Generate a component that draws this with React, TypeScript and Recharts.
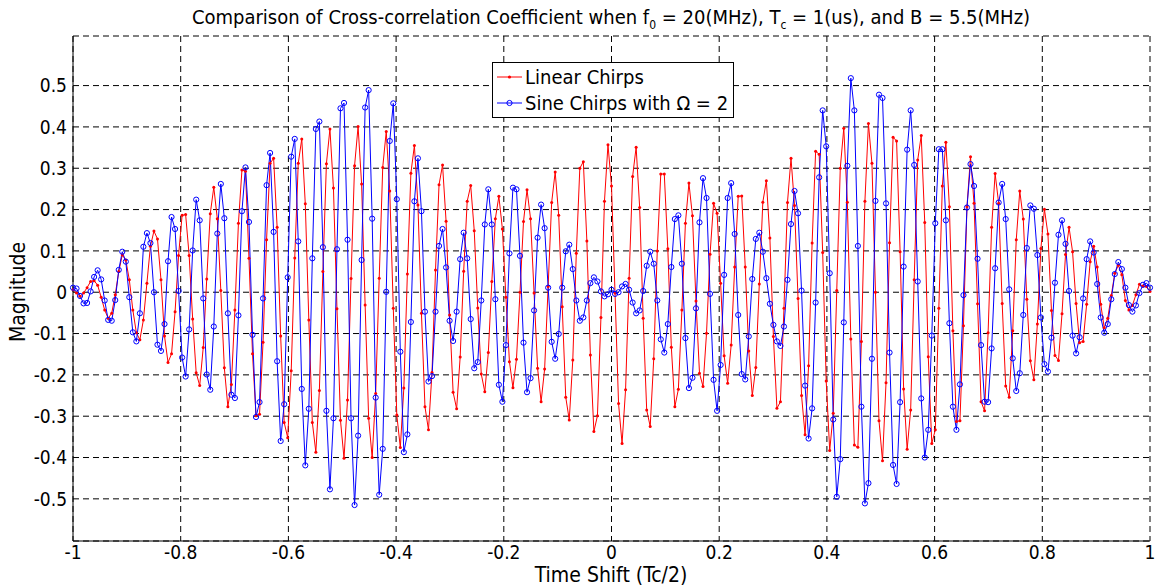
import { LineChart, Line, XAxis, YAxis, CartesianGrid } from "recharts";

// Axis ticks
const xTicks = [-1, -0.8, -0.6, -0.4, -0.2, 0, 0.2, 0.4, 0.6, 0.8, 1];
const yTicks = [-0.5, -0.4, -0.3, -0.2, -0.1, 0, 0.1, 0.2, 0.3, 0.4, 0.5];

// Linear chirps (red, dot markers)
const linearChirps = [
  0.006, -0.002, -0.01, -0.002, 0.011, 0.026, 0.028, 0.017, -0.012, -0.043,
  -0.063, -0.051, -0.006, 0.05, 0.09, 0.078, 0.03, -0.043, -0.098, -0.115,
  -0.067, 0.022, 0.111, 0.148, 0.129, 0.03, -0.106, -0.17, -0.149, -0.047,
  0.089, 0.186, 0.188, 0.089, -0.065, -0.195, -0.226, -0.134, 0.032, 0.19,
  0.254, 0.178, 0.004, -0.183, -0.277, -0.223, -0.043, 0.167, 0.296, 0.293,
  0.082, -0.149, -0.299, -0.295, -0.121, 0.127, 0.312, 0.324, 0.157, -0.106,
  -0.315, -0.352, -0.19, 0.083, 0.312, 0.371, 0.214, -0.067, -0.315, -0.387,
  -0.238, 0.05, 0.311, 0.395, 0.252, -0.04, -0.31, -0.402, -0.261, 0.033,
  0.306, 0.401, 0.262, -0.031, -0.305, -0.4, -0.245, 0.034, 0.302, 0.389,
  0.245, -0.039, -0.297, -0.376, -0.232, 0.044, 0.288, 0.355, 0.211, -0.051,
  -0.277, -0.333, -0.194, 0.054, 0.26, 0.308, 0.172, -0.055, -0.242, -0.282,
  -0.157, 0.051, 0.22, 0.258, 0.149, -0.038, -0.198, -0.241, -0.146, 0.026,
  0.178, 0.232, 0.153, -0.012, -0.168, -0.231, -0.162, 0.0, 0.171, 0.248,
  0.178, -0.002, -0.184, -0.265, -0.186, 0.014, 0.217, 0.291, 0.186, -0.035,
  -0.254, -0.309, -0.164, 0.094, 0.3, 0.316, 0.124, -0.152, -0.337, -0.299,
  -0.061, 0.22, 0.357, 0.257, -0.002, -0.269, -0.366, -0.236, 0.034, 0.28,
  0.351, 0.205, -0.063, -0.285, -0.325, -0.161, 0.1, 0.286, 0.286, 0.105,
  -0.133, -0.277, -0.235, -0.043, 0.167, 0.264, 0.185, -0.021, -0.196, -0.228,
  -0.099, 0.092, 0.215, 0.191, 0.022, -0.154, -0.22, -0.128, 0.061, 0.232,
  0.233, 0.061, -0.142, -0.25, -0.182, 0.02, 0.218, 0.27, 0.131, -0.107,
  -0.281, -0.265, -0.039, 0.217, 0.324, 0.21, -0.015, -0.25, -0.345, -0.178,
  0.119, 0.341, 0.334, 0.096, -0.215, -0.383, -0.293, 0.004, 0.3, 0.397,
  0.218, -0.113, -0.37, -0.375, -0.119, 0.22, 0.408, 0.312, 0.0, -0.311,
  -0.408, -0.219, 0.12, 0.375, 0.366, 0.098, -0.234, -0.38, -0.285, 0.03,
  0.32, 0.379, 0.169, -0.156, -0.366, -0.333, -0.039, 0.257, 0.363, 0.207,
  -0.093, -0.313, -0.311, -0.081, 0.207, 0.328, 0.215, -0.028, -0.265, -0.287,
  -0.098, 0.157, 0.287, 0.215, -0.027, -0.227, -0.254, -0.093, 0.127, 0.245,
  0.177, -0.017, -0.166, -0.212, -0.077, 0.106, 0.201, 0.141, -0.044, -0.153,
  -0.165, -0.052, 0.091, 0.157, 0.098, -0.027, -0.122, -0.119, -0.029, 0.074,
  0.111, 0.061, -0.029, -0.086, -0.063, -0.008, 0.046, 0.065, 0.042, -0.02,
  -0.043, -0.032, -0.006, 0.019, 0.015, 0.014, 0.002,
];

// Sine chirps with omega = 2 (blue, circle markers)
const sineChirps = [
  0.011, 0.009, -0.009, -0.027, -0.026, 0.002, 0.037, 0.053, 0.031, -0.02,
  -0.067, -0.069, -0.019, 0.054, 0.098, 0.074, -0.012, -0.097, -0.119, -0.051,
  0.11, 0.143, 0.119, 0.0, -0.127, -0.142, -0.077, 0.075, 0.182, 0.153,
  0.003, -0.158, -0.204, -0.09, 0.101, 0.224, 0.174, -0.015, -0.199, -0.236,
  -0.083, 0.142, 0.262, 0.179, -0.051, -0.248, -0.256, -0.056, 0.196, 0.302,
  0.17, -0.103, -0.302, -0.266, -0.015, 0.259, 0.337, 0.146, -0.167, -0.36,
  -0.271, 0.036, 0.328, 0.371, 0.123, -0.234, -0.419, -0.282, 0.082, 0.395,
  0.413, 0.109, -0.287, -0.477, -0.305, 0.104, 0.445, 0.458, 0.127, -0.305,
  -0.515, -0.347, 0.078, 0.447, 0.489, 0.178, -0.255, -0.49, -0.379, 0.001,
  0.366, 0.457, 0.225, -0.144, -0.387, -0.344, -0.072, 0.22, 0.324, 0.196,
  -0.047, -0.216, -0.203, -0.047, 0.112, 0.153, 0.06, -0.069, -0.118, -0.047,
  0.08, 0.144, 0.082, -0.065, -0.184, -0.169, -0.02, 0.164, 0.249, 0.164,
  -0.017, -0.224, -0.265, -0.128, 0.094, 0.253, 0.249, 0.088, -0.122, -0.242,
  -0.208, -0.044, 0.132, 0.212, 0.155, 0.011, -0.12, -0.161, -0.101, 0.011,
  0.099, 0.115, 0.056, -0.02, -0.069, -0.061, -0.02, 0.022, 0.036, 0.026,
  0.002, -0.01, -0.005, 0.006, -0.004, 0.0, 0.014, 0.02, 0.006, -0.025,
  -0.051, -0.044, 0.003, 0.064, 0.098, 0.069, -0.02, -0.114, -0.146, -0.077,
  0.061, 0.177, 0.186, 0.069, -0.111, -0.232, -0.207, -0.039, 0.169, 0.276,
  0.228, -0.004, -0.212, -0.287, -0.176, 0.042, 0.228, 0.264, 0.141, -0.055,
  -0.198, -0.211, -0.107, 0.032, 0.129, 0.144, 0.098, 0.034, -0.028, -0.079,
  -0.119, -0.13, -0.083, 0.03, 0.165, 0.245, 0.191, 0.004, -0.226, -0.354,
  -0.281, -0.025, 0.278, 0.44, 0.353, 0.046, -0.308, -0.495, -0.404, -0.073,
  0.306, 0.518, 0.44, 0.112, -0.277, -0.511, -0.462, -0.161, 0.221, 0.478,
  0.47, 0.215, -0.146, -0.418, -0.464, -0.266, 0.062, 0.345, 0.44, 0.308,
  0.026, -0.257, -0.4, -0.333, -0.105, 0.167, 0.346, 0.346, 0.174, -0.075,
  -0.277, -0.333, -0.223, -0.007, 0.205, 0.31, 0.257, 0.081, -0.128, -0.265,
  -0.266, -0.136, 0.058, 0.217, 0.262, 0.177, 0.007, -0.16, -0.239, -0.196,
  -0.055, 0.107, 0.21, 0.202, 0.09, -0.061, -0.174, -0.192, -0.11, 0.023,
  0.139, 0.174, 0.117, 0.003, -0.105, -0.148, -0.109, -0.015, 0.08, 0.123,
  0.096, 0.02, -0.061, -0.098, -0.077, -0.017, 0.044, 0.073, 0.056, 0.011,
  -0.031, -0.047, -0.032, -0.002, 0.018, 0.022, 0.011,
];

const FONT = '"DejaVu Sans Condensed", "Liberation Sans", Arial, sans-serif';

// time shift samples are evenly spaced over [-1, 1]
const data = linearChirps.map((v, i) => ({
  t: -1 + (2 * i) / (linearChirps.length - 1),
  linear: v,
  sine: sineChirps[i],
}));

const tickStyle = { fontFamily: FONT, fontSize: 19, fill: "#000" };

function LegendBox() {
  const row = { position: "absolute" as const, left: 2, height: 26, display: "flex", alignItems: "center", whiteSpace: "nowrap" as const };
  return (
    <div
      style={{
        position: "absolute",
        left: 492,
        top: 62,
        width: 240,
        height: 54,
        border: "1px solid #000",
        background: "#fff",
        fontFamily: FONT,
        fontSize: 20,
        color: "#000",
      }}
    >
      <div style={{ ...row, top: 1 }}>
        <svg width={28} height={26}>
          <line x1={2} y1={13} x2={27} y2={13} stroke="#ff0000" strokeWidth={1} />
          <circle cx={14.5} cy={13} r={1.6} fill="#ff0000" />
        </svg>
        <span style={{ marginLeft: 2 }}>Linear Chirps</span>
      </div>
      <div style={{ ...row, top: 27 }}>
        <svg width={28} height={26}>
          <line x1={2} y1={13} x2={27} y2={13} stroke="#0000ff" strokeWidth={1} />
          <circle cx={14.5} cy={13} r={2.6} fill="none" stroke="#0000ff" strokeWidth={1} />
        </svg>
        <span style={{ marginLeft: 2 }}>Sine Chirps with Ω = 2</span>
      </div>
    </div>
  );
}

export default function App() {
  return (
    <div
      style={{
        position: "absolute",
        left: 0,
        top: 0,
        width: 1155,
        height: 588,
        background: "#fff",
        overflow: "hidden",
      }}
    >
      <LineChart
        width={1155}
        height={588}
        data={data}
        margin={{ top: 36, right: 5, bottom: 0, left: 0 }}
      >
        <CartesianGrid stroke="#000" strokeDasharray="6 4" strokeWidth={1} />
        <XAxis
          dataKey="t"
          type="number"
          domain={[-1, 1]}
          ticks={xTicks}
          tickFormatter={(v: number) => String(v)}
          height={47}
          stroke="#000"
          tickLine={false}
          tickSize={0}
          tickMargin={5}
          tick={tickStyle}
          interval={0}
        />
        <XAxis xAxisId="top" orientation="top" type="number" domain={[-1, 1]} height={0} stroke="#000" tick={false} tickLine={false} />
        <YAxis
          type="number"
          domain={[-0.602, 0.62]}
          ticks={yTicks}
          allowDataOverflow
          tickFormatter={(v: number) => String(v)}
          width={73}
          stroke="#000"
          tickLine={false}
          tickSize={0}
          tickMargin={6}
          tick={tickStyle}
          interval={0}
        />
        <YAxis yAxisId="right" orientation="right" type="number" domain={[-0.602, 0.62]} width={0} stroke="#000" tick={false} tickLine={false} />
        <Line
          type="linear"
          dataKey="linear"
          stroke="#ff0000"
          strokeWidth={1}
          dot={{ r: 1.5, fill: "#ff0000", stroke: "#ff0000", strokeWidth: 0 }}
          isAnimationActive={false}
        />
        <Line
          type="linear"
          dataKey="sine"
          stroke="#0000ff"
          strokeWidth={1}
          dot={{ r: 2.6, fill: "none", stroke: "#0000ff", strokeWidth: 1 }}
          isAnimationActive={false}
        />
      </LineChart>

      <div
        style={{
          position: "absolute",
          left: 111,
          width: 1000,
          top: 5,
          textAlign: "center",
          fontFamily: FONT,
          fontSize: 20,
          color: "#000",
          whiteSpace: "nowrap",
        }}
      >
        Comparison of Cross-correlation Coefficient when f<sub style={{ fontSize: 12 }}>0</sub> = 20(MHz), T
        <sub style={{ fontSize: 12 }}>c</sub> = 1(us), and B = 5.5(MHz)
      </div>
      <div
        style={{
          position: "absolute",
          left: 18,
          top: 292,
          transform: "translate(-50%, -50%) rotate(-90deg)",
          fontFamily: FONT,
          fontSize: 21,
          color: "#000",
          whiteSpace: "nowrap",
        }}
      >
        Magnitude
      </div>
      <div
        style={{
          position: "absolute",
          left: 111,
          width: 1000,
          top: 563,
          textAlign: "center",
          fontFamily: FONT,
          fontSize: 21,
          color: "#000",
          whiteSpace: "nowrap",
        }}
      >
        Time Shift (Tc/2)
      </div>
      <LegendBox />
    </div>
  );
}
